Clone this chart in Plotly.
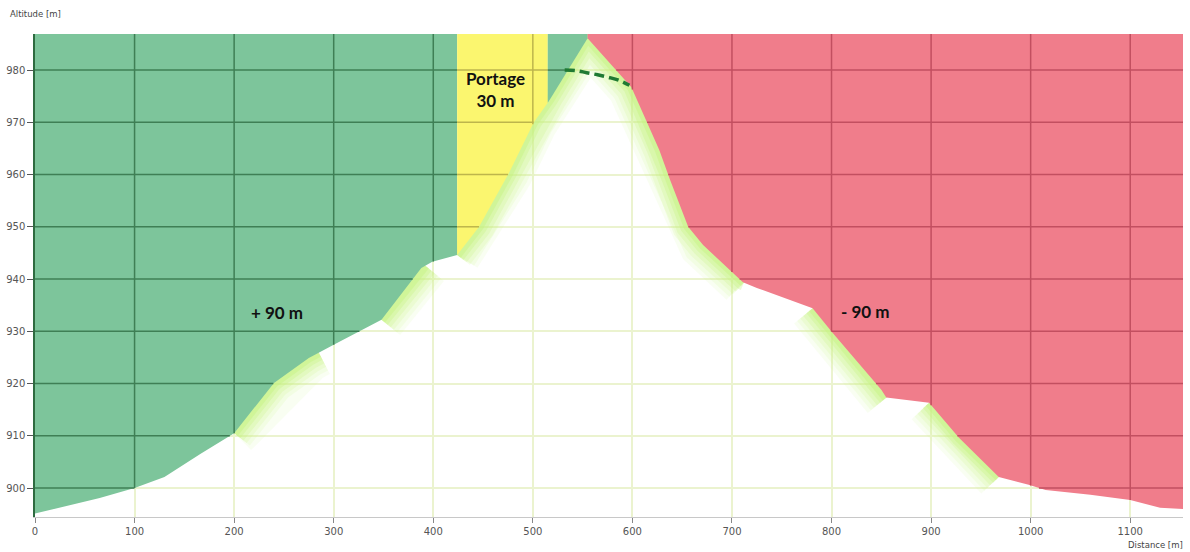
import numpy as np
import plotly.graph_objects as go

# ---- data ----
dist = [0, 65, 100, 130, 166, 200, 240, 275, 300, 348, 388, 399, 424, 446, 476, 501, 517,
        555, 599, 627, 638, 656, 671, 711, 725, 781, 801, 850, 855, 898, 928, 968, 998,
        1015, 1060, 1100, 1130, 1153]
alt = [895.1, 898.1, 900.0, 902.1, 906.5, 910.5, 920.1, 924.9, 927.4, 932.2, 942.1, 943.3, 944.6,
       950.0, 960.3, 970.0, 974.3, 986.1, 976.7, 964.7, 958.9, 950.0, 946.5, 939.4, 938.3,
       934.4, 929.7, 918.8, 917.3, 916.3, 909.6, 902.1, 900.6, 899.6, 898.7, 897.7, 896.2, 896.0]

arc_x = [532, 543, 554, 565, 576, 587, 597]
arc_y = [980.0, 979.9, 979.5, 979.1, 978.6, 978.0, 977.1]

region_bounds = [0, 424, 515, 555, 1153]
region_fill = ['#7dc59b', '#fbf66f', '#7dc59b', '#f07d8b']
region_grid = ['#3f7f55', '#bdb54c', '#3f7f55', '#c24f60']

glow_ranges = [(200, 285), (348, 392), (424, 712), (781, 855), (898, 968)]

x_ticks = list(range(0, 1101, 100))
y_ticks = list(range(900, 981, 10))
X_RANGE = [0, 1153]
Y_RANGE = [894.45, 986.9]

labels_text = ['+ 90 m', 'Portage<br>30 m', '- 90 m']
labels_x = [243, 463, 834]
labels_y = [933.5, 976.2, 933.7]

dist_a = np.array(dist, float)
alt_a = np.array(alt, float)


def prof(x):
    return np.interp(x, dist_a, alt_a)


def path_between(a, b):
    inner = [d for d in dist if a < d < b]
    xs = [a] + inner + [b]
    return xs, list(prof(xs))


fig = go.Figure()

# soft glow beneath the profile (drawn first; the colored fills cover its upper half)
gx, gy = [], []
for a, b in glow_ranges:
    xs, ys = path_between(a, b)
    gx += xs + [None]
    gy += ys + [None]
for w, op in [(48, 0.10), (40, 0.12), (32, 0.16), (24, 0.22), (16, 0.3), (9, 0.4)]:
    fig.add_trace(go.Scatter(x=gx, y=gy, mode='lines', hoverinfo='skip', showlegend=False,
                             line=dict(color='rgba(196,243,125,%s)' % op, width=w)))

TOP = 1000
for i in range(len(region_fill)):
    a, b = region_bounds[i], region_bounds[i + 1]
    xs, ys = path_between(a, b)
    px = xs + [b, a, a]
    py = ys + [TOP, TOP, ys[0]]
    fig.add_trace(go.Scatter(x=px, y=py, mode='lines', fill='toself',
                             fillcolor=region_fill[i], line=dict(width=0, color=region_fill[i]),
                             hoverinfo='skip', showlegend=False))

# darker grid lines over the colored areas
for i in range(len(region_fill)):
    a, b = region_bounds[i], region_bounds[i + 1]
    sx, sy = [], []
    xs = np.linspace(a, b, int((b - a) * 4) + 2)
    ps = prof(xs)
    for h in y_ticks:
        mask = ps < h
        start = None
        for k, m in enumerate(mask):
            if m and start is None:
                start = k
            if (not m or k == len(mask) - 1) and start is not None:
                end = k if m else k - 1
                sx += [xs[start], xs[end], None]
                sy += [h, h, None]
                start = None
    for v in x_ticks:
        if a < v < b:
            sx += [v, v, None]
            sy += [float(prof(v)), TOP, None]
    fig.add_trace(go.Scatter(x=sx, y=sy, mode='lines', hoverinfo='skip', showlegend=False,
                             line=dict(color=region_grid[i], width=1.5)))

# dashed arc over the summit
fig.add_trace(go.Scatter(x=arc_x, y=arc_y, mode='lines', hoverinfo='skip', showlegend=False,
                         line=dict(color='#1f7a33', width=3.5, dash='10px,5px', shape='spline')))

for t, x, y in zip(labels_text, labels_x, labels_y):
    fig.add_annotation(x=x, y=y, text='<b>' + t + '</b>', showarrow=False,
                       font=dict(family='Lato', size=17, color='#111111'))

fig.add_annotation(xref='paper', yref='paper', x=-0.0235, y=1.041, xanchor='left', yanchor='middle',
                   text='Altitude [m]', showarrow=False,
                   font=dict(family='DejaVu Sans', size=8.5, color='#444444'))
fig.add_annotation(xref='paper', yref='paper', x=1.0017, y=-0.058, xanchor='right', yanchor='middle',
                   text='Distance [m]', showarrow=False,
                   font=dict(family='DejaVu Sans', size=8.5, color='#444444'))

fig.update_layout(
    width=1190, height=552,
    margin=dict(l=35, r=7, t=34, b=35, autoexpand=False),
    paper_bgcolor='white', plot_bgcolor='white',
    showlegend=False,
    xaxis=dict(range=X_RANGE, tickvals=x_ticks, ticktext=[str(v) for v in x_ticks],
               automargin=False,
               showgrid=True, gridcolor='#ebf3cf', gridwidth=2, zeroline=False,
               showline=True, linecolor='#c8c8c8', linewidth=1,
               ticks='outside', ticklen=5, tickcolor='#888888',
               tickfont=dict(family='DejaVu Sans', size=10, color='#555555')),
    yaxis=dict(range=Y_RANGE, tickvals=y_ticks, ticktext=[str(v) for v in y_ticks],
               automargin=False,
               showgrid=True, gridcolor='#ebf3cf', gridwidth=2, zeroline=False,
               showline=True, linecolor='#2e6b40', linewidth=1.5,
               ticks='outside', ticklen=6, tickcolor='#555555',
               tickfont=dict(family='DejaVu Sans', size=10, color='#555555')),
)

fig.write_html('out.html', config={'displayModeBar': False},
               post_script="document.body.style.margin='0px';document.body.style.overflow='hidden';")
